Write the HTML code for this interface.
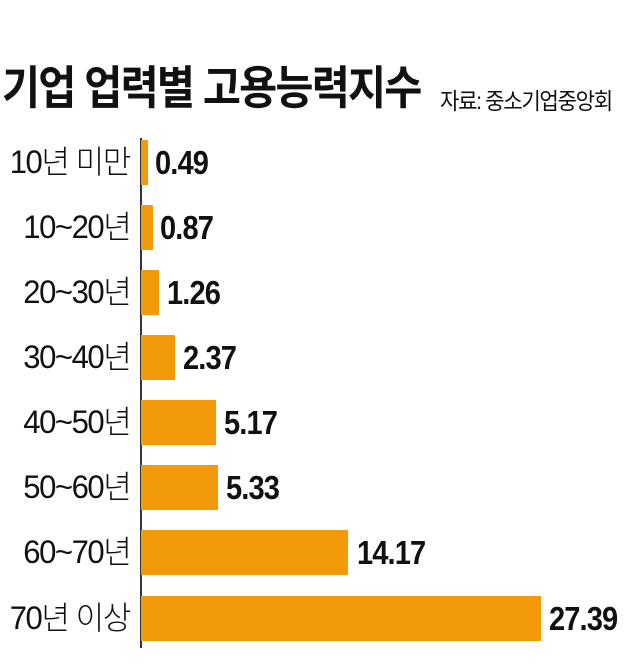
<!DOCTYPE html>
<html><head><meta charset="utf-8"><style>
body{margin:0;width:640px;height:671px;background:#fff;position:relative;overflow:hidden;font-family:"Liberation Sans","Noto Sans CJK KR",sans-serif;color:#111}
.t{position:absolute;left:2px;top:52px;font-size:46px;font-weight:bold;letter-spacing:-2px;white-space:nowrap;transform:scaleX(0.9);transform-origin:left}
.s{position:absolute;left:440px;top:82px;font-size:23px;letter-spacing:-1.5px;white-space:nowrap;transform:scaleX(0.92);transform-origin:left}
.ax{position:absolute;left:140px;top:138px;width:1.5px;height:510px;background:#333}
.bar{position:absolute;left:141px;height:45px;background:#F29A0A}
.l{position:absolute;right:510px;font-size:32px;letter-spacing:-1.5px;white-space:nowrap;line-height:45px;font-weight:300;transform:scaleX(0.97);transform-origin:right}
.v{position:absolute;font-size:33px;font-weight:bold;letter-spacing:-1px;line-height:45px;white-space:nowrap;transform:scaleX(0.88);transform-origin:left}
</style></head><body>
<div class="t">기업 업력별 고용능력지수</div>
<div class="s">자료: 중소기업중앙회</div>
<div class="ax"></div>

<div class="l" style="top:140px">10년 미만</div><div class="bar" style="top:140px;width:7px"></div><div class="v" style="top:140px;left:155px">0.49</div>
<div class="l" style="top:205px">10~20년</div><div class="bar" style="top:205px;width:12px"></div><div class="v" style="top:205px;left:160px">0.87</div>
<div class="l" style="top:270px">20~30년</div><div class="bar" style="top:270px;width:18px"></div><div class="v" style="top:270px;left:167px">1.26</div>
<div class="l" style="top:335px">30~40년</div><div class="bar" style="top:335px;width:34px"></div><div class="v" style="top:335px;left:183px">2.37</div>
<div class="l" style="top:400px">40~50년</div><div class="bar" style="top:400px;width:75px"></div><div class="v" style="top:400px;left:224px">5.17</div>
<div class="l" style="top:465px">50~60년</div><div class="bar" style="top:465px;width:77px"></div><div class="v" style="top:465px;left:226px">5.33</div>
<div class="l" style="top:530px">60~70년</div><div class="bar" style="top:530px;width:207px"></div><div class="v" style="top:530px;left:357px">14.17</div>
<div class="l" style="top:596px">70년 이상</div><div class="bar" style="top:596px;width:400px"></div><div class="v" style="top:596px;left:549px">27.39</div>
</body></html>
